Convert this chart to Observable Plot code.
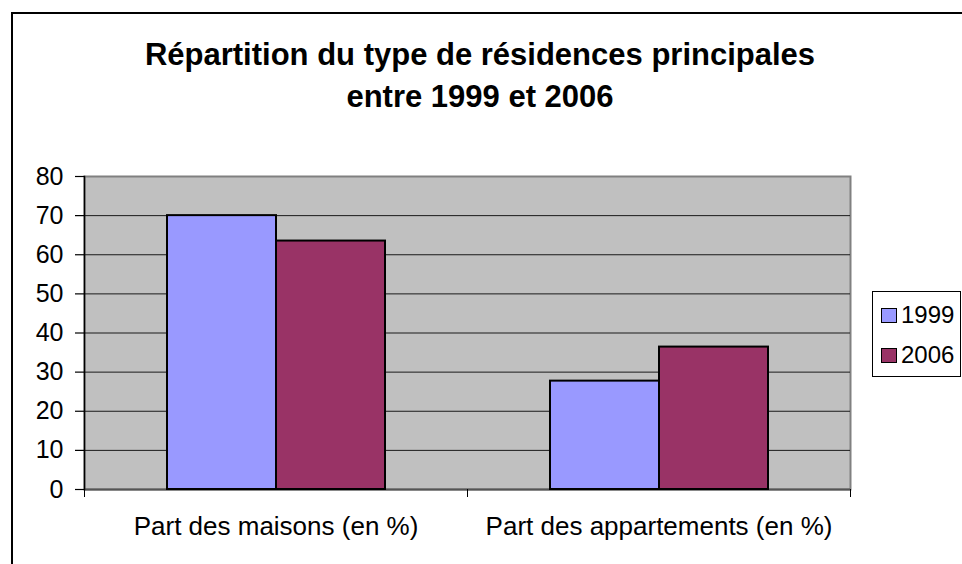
<!DOCTYPE html>
<html>
<head>
<meta charset="utf-8">
<script src="https://cdn.jsdelivr.net/npm/d3@7"></script>
<script src="https://cdn.jsdelivr.net/npm/@observablehq/plot@0.6"></script>
<style>
  body { margin: 0; background: #fff; }
  #wrap { position: relative; width: 962px; height: 564px; overflow: hidden; font-family: "Liberation Sans", Arial, sans-serif; color: #000; }
  #wrap svg { position: absolute; left: 0; top: 0; }
  #border { position: absolute; left: 11px; top: 12px; width: 1200px; height: 1200px; border: 2px solid #000; box-sizing: border-box; pointer-events: none; }
  #title { position: absolute; left: 0; top: 34px; width: 960px; text-align: center; font-weight: bold; font-size: 31px; line-height: 42px; }
  #legend { position: absolute; left: 872px; top: 291px; width: 89px; height: 86px; border: 1px solid #000; box-sizing: border-box; background: #fff; }
  .sw { position: absolute; left: 8px; width: 16px; height: 15px; border: 1.5px solid #000; box-sizing: border-box; }
  .lt { position: absolute; left: 28px; font-size: 24px; line-height: 24px; white-space: nowrap; }
</style>
</head>
<body>
<div id="wrap">
  <div id="border"></div>
  <div id="title">Répartition du type de résidences principales<br>entre 1999 et 2006</div>
  <div id="legend"></div>
</div>
<script>
const categories = ["Part des maisons (en %)", "Part des appartements (en %)"];
const years = ["1999", "2006"];
const values1999 = [70, 27.7];
const values2006 = [63.5, 36.4];
const yTicks = [0, 10, 20, 30, 40, 50, 60, 70, 80];
const colors = ["#9999ff", "#993366"];

const series = [values1999, values2006];
const data = [];
categories.forEach((c, i) => {
  years.forEach((y, j) => data.push({category: c, year: y, value: series[j][i]}));
});

const W = 962, H = 564, mL = 84, mR = 112, mT = 176, mB = 75;
const step = (W - mL - mR) / categories.length;

const plot = Plot.plot({
  width: W, height: H,
  marginLeft: mL, marginRight: mR, marginTop: mT, marginBottom: mB,
  style: {background: "transparent", fontFamily: "Liberation Sans, Arial, sans-serif", color: "black", overflow: "visible"},
  fx: {domain: categories, padding: 0, axis: null, label: null},
  x: {domain: years, paddingInner: 0, paddingOuter: 0.741, axis: null},
  y: {domain: [0, 80], axis: null},
  color: {domain: years, range: colors},
  marks: [
    Plot.frame({facet: "super", fill: "#c0c0c0", stroke: "#808080", strokeWidth: 2}),
    Plot.ruleY(yTicks.filter(t => t > 0 && t < 80), {stroke: "#1a1a1a", strokeWidth: 1}),
    Plot.ruleY([0], {stroke: "#555", strokeWidth: 2}),
    Plot.barY(data, {fx: "category", x: "year", y: "value", fill: "year", stroke: "black", strokeWidth: 2}),
    Plot.axisY({ticks: yTicks, tickSize: 9, tickPadding: 12, fontSize: 25, label: null, stroke: "black", strokeWidth: 1.2}),
    Plot.frame({facet: "super", anchor: "left", stroke: "black", strokeWidth: 1.5}),
    Plot.axisFx({anchor: "bottom", tickSize: 0, tickPadding: 27, fontSize: 26, label: null}),
    Plot.axisFx({anchor: "bottom", tickSize: 8, text: null, dx: -step / 2, label: null, stroke: "black"}),
    Plot.axisFx({anchor: "bottom", ticks: [categories[categories.length - 1]], tickSize: 8, text: null, dx: step / 2, label: null, stroke: "black"})
  ]
});

const wrap = document.getElementById("wrap");
wrap.insertBefore(plot, wrap.firstChild);

const legend = document.getElementById("legend");
years.forEach((y, i) => {
  const sw = document.createElement("div");
  sw.className = "sw";
  sw.style.top = (16 + i * 40) + "px";
  sw.style.background = colors[i];
  legend.appendChild(sw);
  const t = document.createElement("div");
  t.className = "lt";
  t.style.top = (11 + i * 40) + "px";
  t.textContent = y;
  legend.appendChild(t);
});
</script>
</body>
</html>
